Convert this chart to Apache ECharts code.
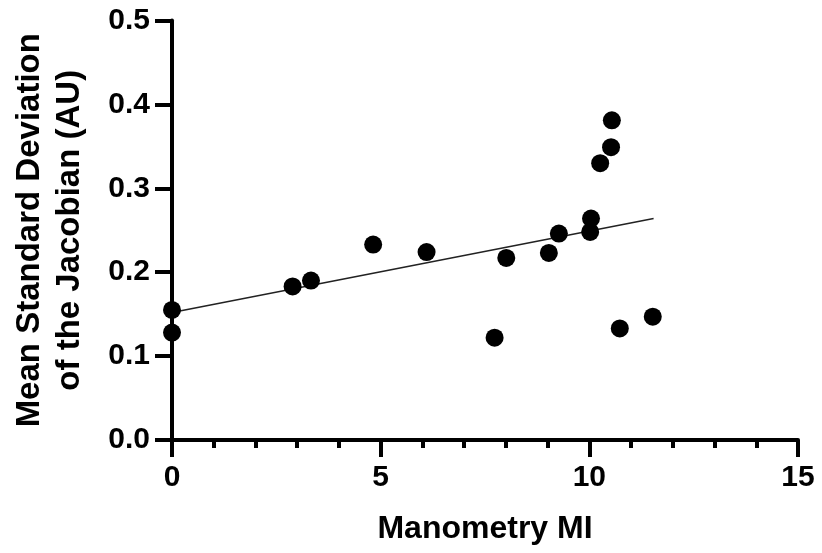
<!DOCTYPE html>
<html>
<head>
<meta charset="utf-8">
<script src="https://cdn.jsdelivr.net/npm/echarts@6/dist/echarts.min.js"></script>
<style>
  html, body { margin: 0; padding: 0; background: #fff; }
  #chart { width: 822px; height: 553px; }
</style>
</head>
<body>
<div id="chart"></div>
<script>
// Manometry MI vs mean SD of the Jacobian
const manometryMI = [0, 0, 2.89, 3.33, 4.82, 6.10, 7.73, 8.01, 9.03, 9.27, 10.02, 10.04, 10.26, 10.52, 10.54, 10.73, 11.52]
const meanSdJacobian = [0.155, 0.128, 0.183, 0.190, 0.233, 0.224, 0.122, 0.217, 0.223, 0.246, 0.248, 0.264, 0.330, 0.349, 0.381, 0.133, 0.147]

// fitted line end points
const fitX = [0, 11.54]
const fitY = [0.152, 0.264]

const xTicks = [0, 5, 10, 15]
const yTicks = [0, 0.1, 0.2, 0.3, 0.4, 0.5]

const font = '"Liberation Sans", Arial, sans-serif'

const chart = echarts.init(document.getElementById('chart'))

chart.setOption({
  animation: false,
  backgroundColor: '#fff',
  grid: {
    left: 172,
    right: 24,
    top: 20.5,
    bottom: 113,
  },
  xAxis: {
    type: 'value',
    min: xTicks[0],
    max: xTicks[xTicks.length - 1],
    interval: xTicks[1] - xTicks[0],
    name: 'Manometry MI',
    nameLocation: 'middle',
    nameGap: 73,
    nameTextStyle: {
      fontFamily: font,
      fontWeight: 'bold',
      fontSize: 32,
      color: '#000',
    },
    axisLine: { onZero: false, lineStyle: { color: '#000', width: 4 } },
    axisTick: { length: 17, lineStyle: { color: '#000', width: 4 } },
    minorTick: { show: true, splitNumber: 5, length: 8, lineStyle: { color: '#000', width: 4 } },
    splitLine: { show: false },
    axisLabel: {
      fontFamily: font,
      fontWeight: 'bold',
      fontSize: 30,
      color: '#000',
      margin: 23,
    },
  },
  yAxis: {
    type: 'value',
    min: yTicks[0],
    max: yTicks[yTicks.length - 1],
    interval: 0.1,
    name: 'Mean Standard Deviation\nof the Jacobian (AU)',
    nameLocation: 'middle',
    nameGap: 82,
    nameTextStyle: {
      fontFamily: font,
      fontWeight: 'bold',
      fontSize: 33,
      lineHeight: 40,
      color: '#000',
      align: 'center',
    },
    axisLine: { show: true, onZero: false, lineStyle: { color: '#000', width: 4 } },
    axisTick: { show: true, length: 17, lineStyle: { color: '#000', width: 4 } },
    splitLine: { show: false },
    axisLabel: {
      fontFamily: font,
      fontWeight: 'bold',
      fontSize: 30,
      color: '#000',
      margin: 22,
      formatter: (v) => v.toFixed(1),
    },
  },
  series: [
    {
      type: 'line',
      data: fitX.map((x, i) => [x, fitY[i]]),
      showSymbol: false,
      lineStyle: { color: '#222', width: 1.5 },
      z: 1,
    },
    {
      type: 'scatter',
      data: manometryMI.map((x, i) => [x, meanSdJacobian[i]]),
      symbol: 'circle',
      symbolSize: 18,
      itemStyle: { color: '#000', opacity: 1 },
      z: 2,
    },
  ],
})
</script>
</body>
</html>
